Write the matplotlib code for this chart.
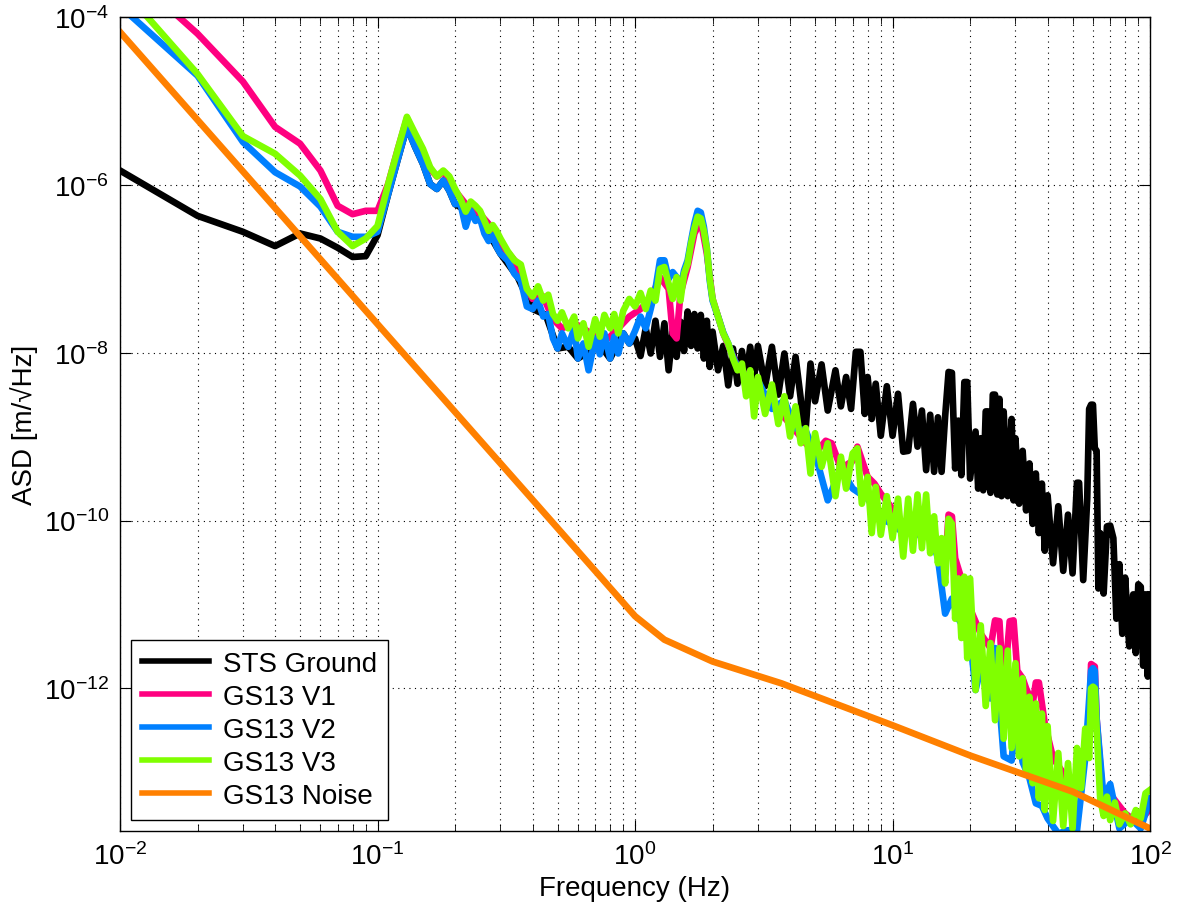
import matplotlib
matplotlib.use('Agg')
import matplotlib.pyplot as plt
from matplotlib.ticker import LogLocator, NullLocator, NullFormatter
import numpy as np

# Points: (frequency in Hz, log10 of ASD in m/rtHz)
sts_ground = [
    (0.01, -5.83), (0.02, -6.37), (0.03, -6.56), (0.04, -6.73), (0.05, -6.58),
    (0.06, -6.64), (0.07, -6.75), (0.08, -6.86), (0.09, -6.85), (0.10, -6.60),
    (0.11, -6.11), (0.12, -5.69), (0.13, -5.31), (0.14, -5.55), (0.15, -5.75),
    (0.16, -5.99), (0.17, -6.05), (0.18, -5.95), (0.19, -6.07), (0.20, -6.23),
    (0.25, -6.40), (0.30, -6.82), (0.35, -7.10), (0.40, -7.48), (0.45, -7.55),
    (0.50, -7.95), (0.55, -7.93), (0.60, -8.07), (0.65, -8.00), (0.70, -7.83),
    (0.80, -8.07), (0.90, -7.77), (0.95, -7.89),
    (1.00, -7.83), (1.05, -8.04), (1.10, -7.71), (1.15, -8.01), (1.20, -7.62),
    (1.25, -8.05), (1.30, -7.65), (1.35, -8.21), (1.40, -7.74), (1.45, -8.05),
    (1.50, -7.63), (1.55, -7.98), (1.60, -7.51), (1.65, -7.92), (1.70, -7.54),
    (1.75, -7.95), (1.80, -7.55), (1.85, -8.07), (1.90, -7.62), (1.95, -8.17),
    (2.0, -7.75), (2.1, -8.21), (2.2, -7.92), (2.3, -8.39), (2.4, -7.95),
    (2.5, -8.37), (2.6, -7.98), (2.7, -8.31), (2.8, -7.93), (2.9, -8.29),
    (3.0, -7.92), (3.2, -8.40), (3.4, -7.93), (3.6, -8.50), (3.8, -8.01),
    (4.0, -8.52), (4.2, -8.05), (4.4, -8.55), (4.5, -8.90), (4.6, -8.90),
    (4.8, -8.13), (5.0, -8.58), (5.3, -8.14), (5.6, -8.69), (6.0, -8.21),
    (6.3, -8.64), (6.6, -8.29), (6.9, -8.67), (7.2, -7.99), (7.5, -7.99),
    (7.8, -8.73), (8.0, -8.29), (8.3, -8.79), (8.6, -8.37), (9.0, -8.99),
    (9.5, -8.40), (10, -8.99), (10.5, -8.49), (11, -9.18), (11.5, -9.17),
    (12, -8.61), (12.5, -9.12), (13, -8.69), (13.5, -9.40), (14, -8.74),
    (14.5, -9.42), (15, -8.77), (15.5, -9.42), (16, -8.76), (16.5, -8.23),
    (17, -8.24), (17.5, -9.38), (18, -8.81), (18.5, -9.46), (19, -8.35),
    (19.5, -8.35), (20, -9.50), (21, -8.94), (21.5, -9.62), (22, -9.02),
    (22.5, -9.64), (23, -8.70), (23.5, -8.70), (24, -9.67), (24.5, -8.50),
    (25, -8.50), (25.5, -9.69), (26, -8.55), (26.5, -9.71), (27, -8.70),
    (28, -9.71), (29, -8.79), (29.5, -9.76), (30, -9.02), (31, -9.80),
    (32, -9.17), (33, -9.88), (34, -9.32), (35, -10.04), (36, -9.44),
    (37, -10.15), (38, -9.56), (39, -10.36), (40, -9.70), (42, -10.51),
    (44, -9.83), (46, -10.60), (48, -9.93), (50, -10.63), (52, -9.55),
    (53, -9.55), (55, -10.71), (57, -9.74), (58, -8.67), (59, -8.62),
    (60, -8.62), (61, -9.14), (62, -9.17), (63, -10.81), (64, -10.15),
    (66, -10.87), (68, -10.07), (70, -10.06), (72, -10.21), (74, -11.17),
    (76, -10.52), (78, -11.35), (80, -10.68), (83, -11.50), (86, -10.88),
    (88, -11.58), (90, -10.76), (92, -10.79), (94, -11.73), (96, -10.88),
    (98, -11.86), (100, -10.88),
]

gs13_v1 = [
    (0.01, -3.37), (0.02, -4.20), (0.03, -4.77), (0.04, -5.31), (0.05, -5.51),
    (0.06, -5.83), (0.07, -6.25), (0.08, -6.35), (0.09, -6.31), (0.10, -6.31),
    (0.11, -5.99), (0.12, -5.57), (0.13, -5.21), (0.14, -5.42), (0.15, -5.60),
    (0.16, -5.81), (0.17, -5.90), (0.18, -5.85), (0.19, -5.93), (0.20, -6.07),
    (0.22, -6.23), (0.25, -6.35), (0.28, -6.52), (0.30, -6.70), (0.34, -6.90),
    (0.38, -7.24), (0.40, -7.36), (0.44, -7.33), (0.48, -7.60), (0.52, -7.71),
    (0.58, -7.65), (0.63, -7.71), (0.70, -7.81), (0.76, -7.86), (0.80, -7.81),
    (0.86, -7.71), (0.95, -7.57), (1.05, -7.48), (1.15, -7.36), (1.25, -7.10),
    (1.35, -7.24), (1.40, -7.77), (1.45, -7.83), (1.50, -7.30), (1.60, -6.98),
    (1.70, -6.58), (1.80, -6.43), (1.90, -6.82), (2.0, -7.36), (2.2, -7.77),
    (2.5, -8.17), (2.8, -8.31), (3.2, -8.52), (3.6, -8.69), (4.0, -8.85),
    (4.6, -9.08), (5.0, -9.20), (5.5, -9.05), (5.8, -9.08), (6.3, -9.38),
    (7.0, -9.29), (7.3, -9.12), (8.0, -9.48), (8.5, -9.56), (9.0, -9.68),
    (10, -9.86), (11, -10.04), (12, -9.98), (13, -10.11), (14, -10.04),
    (15, -10.33), (16, -10.57), (16.5, -9.93), (17, -9.95), (17.5, -10.45),
    (19, -10.81), (20, -11.05), (22, -11.35), (24, -11.52), (25, -11.19),
    (26, -11.20), (26.5, -11.64), (27.5, -11.76), (28.5, -11.20), (29.5, -11.19),
    (30.5, -11.79), (32, -11.88), (33, -12.00), (35, -12.18), (36, -11.93),
    (37, -11.93), (39, -12.42), (42, -12.83), (46, -13.01), (50, -13.19),
    (54, -12.96), (58, -12.48), (59, -11.71), (61, -11.74), (62, -12.36),
    (66, -13.43), (72, -13.31), (80, -13.49), (90, -13.61), (100, -13.43),
]

gs13_v2 = [
    (0.01, -3.87), (0.02, -4.70), (0.03, -5.49), (0.04, -5.85), (0.05, -6.02),
    (0.06, -6.26), (0.07, -6.56), (0.08, -6.62), (0.09, -6.62), (0.10, -6.56),
    (0.11, -6.11), (0.12, -5.69), (0.13, -5.31), (0.14, -5.55), (0.15, -5.75),
    (0.16, -5.99), (0.17, -6.05), (0.18, -5.95), (0.19, -6.07), (0.20, -6.23),
    (0.21, -6.23), (0.22, -6.50), (0.23, -6.31), (0.24, -6.43), (0.25, -6.40),
    (0.26, -6.58), (0.27, -6.67), (0.28, -6.60), (0.29, -6.74), (0.30, -6.82),
    (0.32, -6.90), (0.34, -7.06), (0.36, -7.14), (0.38, -7.45), (0.40, -7.48),
    (0.42, -7.38), (0.44, -7.57), (0.46, -7.54), (0.48, -7.83), (0.50, -7.95),
    (0.52, -7.77), (0.55, -7.93), (0.58, -7.71), (0.60, -8.07), (0.63, -7.89),
    (0.66, -8.21), (0.70, -7.83), (0.73, -8.02), (0.76, -7.77), (0.80, -8.07),
    (0.83, -7.81), (0.86, -8.01), (0.90, -7.77), (0.95, -7.89), (1.00, -7.74),
    (1.05, -7.57), (1.10, -7.71), (1.15, -7.48), (1.20, -7.24), (1.25, -6.90),
    (1.30, -6.90), (1.35, -7.12), (1.40, -7.04), (1.45, -7.10), (1.50, -7.24),
    (1.55, -7.02), (1.60, -6.90), (1.65, -6.67), (1.70, -6.46), (1.75, -6.31),
    (1.80, -6.33), (1.85, -6.50), (1.90, -6.76), (1.95, -7.14), (2.0, -7.38),
    (2.1, -7.57), (2.2, -7.76), (2.3, -7.89), (2.4, -8.05), (2.5, -8.17),
    (2.6, -8.19), (2.8, -8.49), (3.0, -8.33), (3.4, -8.67), (3.8, -8.57),
    (4.2, -8.90), (4.6, -8.93), (5.0, -9.20), (5.6, -9.76), (6.3, -9.38),
    (7.0, -9.62), (8.0, -9.74), (9.0, -9.98), (10, -10.04), (11, -10.15),
    (12, -10.08), (13, -10.21), (14, -10.15), (15, -10.45), (16, -11.11),
    (17, -10.93), (18, -11.17), (20, -11.40), (21, -12.02), (22, -11.76),
    (24, -12.12), (25, -11.52), (27, -12.81), (29, -12.86), (30, -12.36),
    (32, -12.88), (34, -13.07), (36, -13.37), (38, -13.40), (40, -13.55),
    (44, -13.73), (48, -13.69), (52, -13.70), (56, -12.83), (59, -11.79),
    (60, -11.76), (61, -11.79), (62, -12.36), (66, -13.31), (70, -13.14),
    (76, -13.67), (84, -13.55), (92, -13.67), (100, -13.31),
]

gs13_v3 = [
    (0.01, -3.63), (0.02, -4.68), (0.03, -5.42), (0.04, -5.63), (0.05, -5.89),
    (0.06, -6.17), (0.07, -6.56), (0.08, -6.73), (0.09, -6.64), (0.10, -6.49),
    (0.11, -5.99), (0.12, -5.57), (0.13, -5.19), (0.14, -5.39), (0.15, -5.57),
    (0.16, -5.79), (0.17, -5.90), (0.18, -5.83), (0.19, -5.90), (0.20, -6.05),
    (0.21, -6.17), (0.22, -6.32), (0.23, -6.20), (0.24, -6.25), (0.25, -6.31),
    (0.26, -6.43), (0.27, -6.55), (0.28, -6.48), (0.29, -6.55), (0.30, -6.64),
    (0.32, -6.79), (0.34, -6.90), (0.36, -6.95), (0.38, -7.24), (0.40, -7.33),
    (0.42, -7.21), (0.44, -7.38), (0.46, -7.31), (0.48, -7.54), (0.50, -7.62),
    (0.52, -7.52), (0.55, -7.71), (0.58, -7.57), (0.60, -7.83), (0.63, -7.65),
    (0.66, -7.93), (0.70, -7.60), (0.73, -7.81), (0.76, -7.55), (0.80, -7.71),
    (0.83, -7.54), (0.86, -7.77), (0.90, -7.50), (0.95, -7.36), (1.00, -7.45),
    (1.05, -7.29), (1.10, -7.48), (1.15, -7.26), (1.20, -7.38), (1.25, -7.00),
    (1.30, -6.98), (1.35, -7.18), (1.40, -7.36), (1.45, -7.10), (1.50, -7.38),
    (1.55, -7.06), (1.60, -6.94), (1.65, -6.70), (1.70, -6.52), (1.75, -6.38),
    (1.80, -6.40), (1.85, -6.55), (1.90, -6.76), (1.95, -7.12), (2.0, -7.36),
    (2.1, -7.57), (2.2, -7.77), (2.3, -7.89), (2.4, -8.07), (2.5, -8.21),
    (2.6, -8.13), (2.7, -8.52), (2.8, -8.21), (2.9, -8.76), (3.0, -8.29),
    (3.2, -8.73), (3.4, -8.38), (3.6, -8.85), (3.8, -8.52), (4.0, -9.00),
    (4.2, -8.64), (4.4, -9.08), (4.6, -8.90), (4.8, -9.44), (5.0, -8.96),
    (5.3, -9.36), (5.6, -9.08), (6.0, -9.71), (6.3, -9.24), (6.6, -9.62),
    (7.0, -9.20), (7.3, -9.14), (7.6, -9.80), (8.0, -9.48), (8.3, -10.15),
    (8.6, -9.60), (9.0, -10.17), (9.5, -9.71), (10, -10.21), (10.5, -9.74),
    (11, -10.43), (11.5, -9.74), (12, -10.36), (12.5, -9.69), (13, -10.33),
    (13.5, -9.69), (14, -10.39), (14.5, -9.95), (15, -10.51), (15.5, -10.21),
    (16, -10.75), (16.5, -9.98), (17, -10.04), (17.5, -11.17), (18, -10.69),
    (18.5, -11.40), (19, -10.67), (19.5, -11.64), (20, -10.69), (21, -12.02),
    (22, -11.25), (23, -12.21), (24, -11.46), (25, -12.38), (26, -11.52),
    (27, -12.60), (28, -11.55), (29, -12.71), (30, -11.70), (31, -12.81),
    (32, -11.88), (33, -12.98), (34, -12.10), (35, -13.13), (36, -12.18),
    (37, -13.31), (38, -12.30), (39, -13.45), (40, -12.45), (42, -13.58),
    (44, -12.77), (46, -13.64), (48, -12.89), (50, -13.67), (52, -12.71),
    (54, -13.19), (56, -12.48), (58, -12.83), (59, -12.00), (60, -11.98),
    (61, -12.00), (62, -12.48), (64, -13.31), (66, -13.52), (68, -13.29),
    (70, -13.57), (73, -13.36), (76, -13.62), (80, -13.49), (84, -13.62),
    (88, -13.45), (92, -13.55), (96, -13.25), (100, -13.21),
]

gs13_noise = [
    (0.01, -4.18), (0.1, -7.66), (0.5, -10.09), (1.0, -11.14), (1.3, -11.42),
    (2.0, -11.68), (3.7, -11.94), (10, -12.44), (20, -12.80), (50, -13.23),
    (100, -13.67),
]

series = [
    ('STS Ground', sts_ground, '#000000'),
    ('GS13 V1', gs13_v1, '#FF0080'),
    ('GS13 V2', gs13_v2, '#0080FF'),
    ('GS13 V3', gs13_v3, '#80FF00'),
    ('GS13 Noise', gs13_noise, '#FF8000'),
]

plt.rcParams['font.family'] = ['Liberation Sans', 'DejaVu Sans']
plt.rcParams['mathtext.fontset'] = 'custom'
plt.rcParams['mathtext.rm'] = 'Liberation Sans'
plt.rcParams['mathtext.default'] = 'regular'

fig = plt.figure(figsize=(11.78, 9.2), dpi=100)
ax = fig.add_axes([0.1019, 0.0957, 0.8744, 0.8848])

for name, pts, col in series:
    freq, logasd = zip(*pts)
    ax.plot(freq, 10.0 ** np.array(logasd), color=col, lw=4.8, label=name)

ax.set_xscale('log')
ax.set_yscale('log')
ax.set_xlim(1e-2, 1e2)
ax.set_ylim(2e-14, 1e-4)
ax.set_yticks([1e-12, 1e-10, 1e-8, 1e-6, 1e-4])
ax.yaxis.set_minor_locator(NullLocator())
ax.xaxis.set_minor_locator(LogLocator(base=10, subs=np.arange(2, 10)))
ax.xaxis.set_minor_formatter(NullFormatter())

ax.grid(True, which='major', ls=(0, (1, 4)), color='k', lw=0.8)
ax.grid(True, which='minor', axis='x', ls=(0, (1, 4)), color='k', lw=0.8)
ax.tick_params(which='both', direction='in', top=True, right=True,
               labelsize=20, pad=8)
ax.tick_params(which='major', length=8)
ax.tick_params(which='minor', length=5)
for sp in ax.spines.values():
    sp.set_linewidth(1.0)

ax.set_xlabel('Frequency (Hz)', fontsize=20)
ax.set_ylabel('ASD [m/\u221aHz]', fontsize=20)

leg = ax.legend(loc='lower left', fontsize=20, frameon=True, fancybox=False,
                edgecolor='k', framealpha=1, borderaxespad=0.4,
                handlelength=2.4, handletextpad=0.5, labelspacing=0.25,
                borderpad=0.4)
leg.get_frame().set_linewidth(1.0)
for ln in leg.get_lines():
    ln.set_linewidth(4.0)

fig.savefig('out.png', dpi=100)
